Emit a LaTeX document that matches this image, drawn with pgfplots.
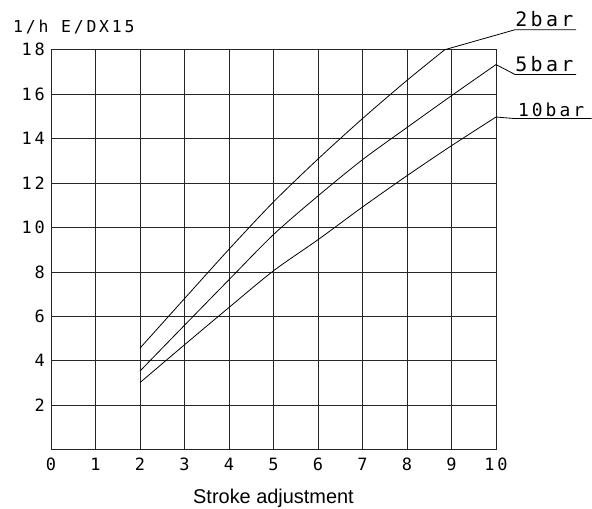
\documentclass[border=0pt]{standalone}
\usepackage{fontspec}
\setmainfont{Liberation Sans}
\newfontfamily\cadfont[LetterSpace=17]{DejaVu Sans Mono}
\usepackage{pgfplots}
\pgfplotsset{compat=1.18}

\begin{document}
\begin{tikzpicture}[x=1bp,y=1bp]
\useasboundingbox (-51,-59.3) rectangle (541,449.7);
\begin{axis}[
    at={(0,0)}, anchor=south west,
    scale only axis, width=445bp, height=400bp,
    xmin=0, xmax=10, ymin=0, ymax=18,
    xtick={0,...,10}, ytick={2,4,...,18},
    grid=major,
    major grid style={black!85, line width=0.7bp},
    axis line style={black!85, line width=0.7bp},
    major tick length=0pt,
    /pgf/number format/assume math mode=true,
    tick label style={font=\cadfont\fontsize{17}{17}\selectfont},
    xticklabel style={anchor=base, yshift=-21bp},
    yticklabel style={anchor=east, inner sep=0pt, xshift=-6bp},
    xlabel={Stroke adjustment},
    xlabel style={at={(axis description cs:0.5,0)}, anchor=base, yshift=-53.3bp,
        font=\fontsize{20}{20}\selectfont},
    clip=false,
]

% 2 bar
\addplot [black, line width=0.8bp, smooth, tension=0.5] coordinates {
    (2,4.57) (3,6.8) (4,9.02) (5,11.15) (6,13.08) (7,14.9) (8,16.62) (8.85,18)};
% 5 bar
\addplot [black, line width=0.8bp, smooth, tension=0.5] coordinates {
    (2,3.54) (3,5.6) (4,7.65) (5,9.68) (6,11.42) (7,13.05) (8,14.5) (9,15.93) (10,17.33)};
% 10 bar
\addplot [black, line width=0.8bp, smooth, tension=0.5] coordinates {
    (2,3.02) (3,4.72) (4,6.4) (5,8.05) (6,9.45) (7,10.92) (8,12.33) (9,13.68) (10,14.97)};

% leaders with underlines
\addplot [black, line width=0.8bp] coordinates {(8.85,18) (10.43,18.9) (11.8,18.9)};
\addplot [black, line width=0.8bp] coordinates {(10,17.33) (10.43,16.88) (11.8,16.88)};
\addplot [black, line width=0.8bp] coordinates {(10,14.97) (10.43,14.9) (12.15,14.9)};

\node [anchor=base west, inner sep=0pt, yshift=3bp, font=\cadfont\fontsize{20}{20}\selectfont]
    at (axis cs:10.43,18.9) {2bar};
\node [anchor=base west, inner sep=0pt, yshift=3bp, font=\cadfont\fontsize{20}{20}\selectfont]
    at (axis cs:10.43,16.88) {5bar};
\node [anchor=base west, inner sep=0pt, yshift=2bp, font=\cadfont\fontsize{18}{18}\selectfont]
    at (axis cs:10.49,14.9) {10bar};

\node [anchor=base west, inner sep=0pt, font=\cadfont\fontsize{16.5}{16.5}\selectfont]
    at (axis description cs:0,1) [xshift=-38bp, yshift=17.4bp] {1/h E/DX15};
\end{axis}
\end{tikzpicture}
\end{document}
